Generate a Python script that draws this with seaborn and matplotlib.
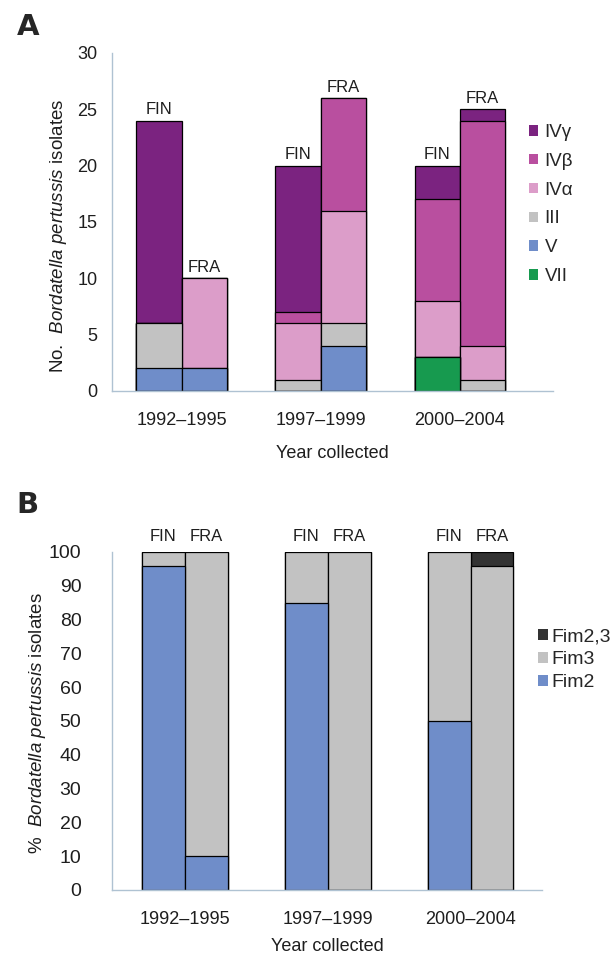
import matplotlib
matplotlib.use('Agg')
import matplotlib.pyplot as plt
import numpy as np
import pandas as pd
import seaborn as sns
from matplotlib.patches import Patch

sns.set_theme(style='white')
plt.rcParams['font.family'] = ['Liberation Sans', 'DejaVu Sans']
plt.rcParams['mathtext.fontset'] = 'custom'
plt.rcParams['mathtext.rm'] = 'Liberation Sans'
plt.rcParams['mathtext.it'] = 'Liberation Sans:italic'

# --- data ---
periods = ['1992–1995', '1997–1999', '2000–2004']
countries = ['FIN', 'FRA']
# order of every list: FIN 92-95, FRA 92-95, FIN 97-99, FRA 97-99, FIN 00-04, FRA 00-04

# panel A, counts per type (bottom to top)
type_names = ['VII', 'V', 'III', 'IVα', 'IVβ', 'IVγ']
vii = [0, 0, 0, 0, 3, 0]
v = [2, 2, 0, 4, 0, 0]
iii = [4, 0, 1, 2, 0, 1]
iva = [0, 8, 5, 10, 5, 3]
ivb = [0, 0, 1, 10, 9, 20]
ivg = [18, 0, 13, 0, 3, 1]
type_colors = ['#179a4f', '#6f8dc9', '#c2c2c2', '#dc9dc9', '#b94f9f', '#7b2380']

# panel B, % per fimbrial serotype (bottom to top)
fim_names = ['Fim2', 'Fim3', 'Fim2,3']
fim2 = [96, 10, 85, 0, 50, 0]
fim3 = [4, 90, 15, 100, 50, 96]
fim23 = [0, 0, 0, 0, 0, 4]
fim_colors = ['#6f8dc9', '#c2c2c2', '#333333']

spine_col = '#afc2d2'
txt_col = '#1e1e1e'


def long_table(vals):
    rows = []
    k = 0
    for p in periods:
        for c in countries:
            rows.append({'period': p, 'country': c, 'value': vals[k]})
            k += 1
    return pd.DataFrame(rows)


def stacked(ax, layers, colors, width):
    cum = np.cumsum(np.array(layers), axis=0)
    # draw cumulative totals from the top layer down so each one covers the rest
    for i in range(len(layers) - 1, -1, -1):
        df = long_table(cum[i])
        sns.barplot(data=df, x='period', y='value', hue='country', order=periods,
                    hue_order=countries, palette={'FIN': colors[i], 'FRA': colors[i]},
                    width=width, gap=0, errorbar=None, legend=False,
                    edgecolor='black', linewidth=0.9, saturation=1, ax=ax)


def style_axis(ax, xlim, ymax, step, ylab_size, ypad, xlabpad):
    ax.set_xlim(*xlim)
    ax.set_ylim(0, ymax)
    ax.set_yticks(np.arange(0, ymax + 1, step))
    for s in ['top', 'right']:
        ax.spines[s].set_visible(False)
    for s in ['left', 'bottom']:
        ax.spines[s].set_color(spine_col)
        ax.spines[s].set_linewidth(1.0)
    ax.set_xticks([0.5, 1.5], minor=True)
    ax.tick_params(axis='x', which='major', length=0, pad=15, labelsize=13, labelcolor=txt_col)
    ax.tick_params(axis='x', which='minor', length=6, color=spine_col, direction='inout')
    ax.tick_params(axis='y', length=4, color=spine_col, direction='out', labelsize=ylab_size,
                   labelcolor=txt_col, pad=ypad)
    ax.set_xlabel('Year collected', fontsize=13, labelpad=xlabpad, color=txt_col)


fig = plt.figure(figsize=(6.14, 9.58), dpi=100)
fig.patch.set_facecolor('white')

# ---- panel A ----
axA = fig.add_axes([0.1824, 0.5919, 0.7182, 0.3528])
stacked(axA, [vii, v, iii, iva, ivb, ivg], type_colors, 0.65)
style_axis(axA, (-0.5, 2.67), 30, 5, 13, 6.5, 12)
axA.set_ylabel(r'No.  $\it{Bordatella\ pertussis}$ isolates', fontsize=13.5, color=txt_col)
axA.yaxis.set_label_coords(-0.098, 0.459)
for cont, lab in zip(axA.containers[:2], countries):
    axA.bar_label(cont, labels=[lab] * len(periods), padding=2.5, fontsize=12,
                  color=txt_col)
handlesA = [Patch(facecolor=c, edgecolor='none', label=n)
            for n, c in zip(type_names, type_colors)][::-1]
fig.legend(handles=handlesA, loc='upper left', bbox_to_anchor=(0.8616, 0.8706),
           frameon=False, fontsize=13.5, handlelength=0.48, handleheight=0.48,
           handletextpad=0.35, labelspacing=0.63, borderaxespad=0, borderpad=0)
fig.text(0.027, 0.9635, 'A', fontsize=21, fontweight='bold', family='DejaVu Sans',
         va='baseline', ha='left')

# ---- panel B ----
axB = fig.add_axes([0.1824, 0.0710, 0.7003, 0.3528])
stacked(axB, [fim2, fim3, fim23], fim_colors, 0.60)
style_axis(axB, (-0.51, 2.50), 100, 10, 14, 18, 7.5)
axB.set_ylabel(r'%  $\it{Bordatella\ pertussis}$ isolates', fontsize=13.5, color=txt_col)
axB.yaxis.set_label_coords(-0.149, 0.494)
for cont, lab in zip(axB.containers[:2], countries):
    axB.bar_label(cont, labels=[lab] * len(periods), padding=6, fontsize=12,
                  color=txt_col)
handlesB = [Patch(facecolor=c, edgecolor='none', label=n)
            for n, c in zip(fim_names, fim_colors)][::-1]
fig.legend(handles=handlesB, loc='upper left', bbox_to_anchor=(0.876, 0.3440),
           frameon=False, fontsize=14, handlelength=0.5, handleheight=0.5,
           handletextpad=0.2, labelspacing=0.3, borderaxespad=0, borderpad=0)
fig.text(0.026, 0.4645, 'B', fontsize=21, fontweight='bold', family='DejaVu Sans',
         va='baseline', ha='left')

fig.savefig('out.png', dpi=100, facecolor='white')
